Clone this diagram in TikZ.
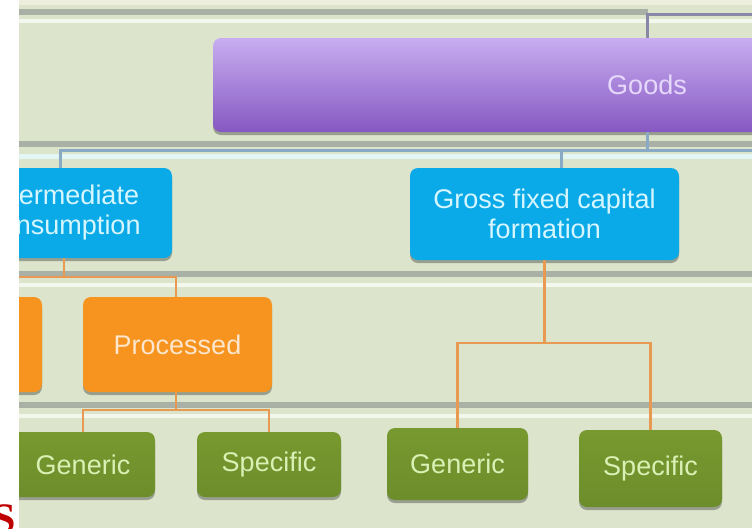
\documentclass[tikz,border=0pt]{standalone}
\usepackage{fontspec}
\setmainfont{Liberation Sans}
\newfontfamily\serifbold{Liberation Serif}
\usetikzlibrary{shadows}
\definecolor{bg}{HTML}{DCE4CC}
\definecolor{sepgray}{HTML}{A9B0A6}
\definecolor{sepwhite}{HTML}{F4F7EE}
\definecolor{topbeige}{HTML}{EEEEDC}
\definecolor{purtop}{HTML}{C8AEF0}
\definecolor{purbot}{HTML}{8658C2}
\definecolor{purtext}{HTML}{E6D8FA}
\definecolor{purline}{HTML}{8A86A8}
\definecolor{bluebox}{HTML}{0AA9E8}
\definecolor{bluetext}{HTML}{D6F6FF}
\definecolor{busblue}{HTML}{88AAC4}
\definecolor{lightcyan}{HTML}{E2F6F4}
\definecolor{orangebox}{HTML}{F7931F}
\definecolor{orangetext}{HTML}{FCE6CC}
\definecolor{orangeline}{HTML}{E89A52}
\definecolor{greenbox}{HTML}{6C8D2B}
\definecolor{greentop}{HTML}{78992F}
\definecolor{greentext}{HTML}{DAF0B4}
\definecolor{redS}{HTML}{C00000}
\tikzset{
  box/.style={rounded corners=8pt, inner sep=0pt, align=center,
    font=\fontsize{27}{30}\selectfont,
    drop shadow={shadow xshift=0pt, shadow yshift=-3pt, opacity=0.3, fill=black}},
  goodsbox/.style={box, top color=purtop, bottom color=purbot, text=purtext},
  bluenode/.style={box, fill=bluebox, text=bluetext},
  orangenode/.style={box, fill=orangebox, text=orangetext},
  greennode/.style={box, top color=greentop, bottom color=greenbox, text=greentext},
  sep/.style={draw=sepgray, line width=6pt},
  sepw/.style={draw=sepwhite, line width=4pt},
  topline/.style={draw=purline, line width=3pt},
  busline/.style={draw=busblue, line width=3pt},
  orline/.style={draw=orangeline, line width=2.5pt}
}
\begin{document}
\begin{tikzpicture}[x=1pt,y=-1pt]
\useasboundingbox (0,0) rectangle (752,528);
\begin{scope}
\clip (19,0) rectangle (752,528);
\fill[bg] (19,0) rectangle (752,528);
\fill[topbeige] (19,0) rectangle (752,5);
% separators
\draw[sep] (19,12) -- (648,12);
\draw[sepw] (19,21) -- (752,21);
\draw[sep] (19,144) -- (752,144);
\draw[draw=lightcyan, line width=5pt] (19,156) -- (752,156);
\draw[sep] (19,274) -- (752,274);
\draw[sepw] (19,285) -- (752,285);
\draw[sep] (19,405) -- (752,405);
\draw[sepw] (19,416) -- (752,416);

% nodes
\node[goodsbox, minimum width=868pt, minimum height=94pt] (goods) at (647,85) {Goods};
\node[bluenode, minimum width=216pt, minimum height=90pt] (inter) at (64,213) {Intermediate\\consumption};
\node[bluenode, minimum width=269pt, minimum height=92pt] (gross) at (544.5,214) {Gross fixed capital\\formation};
\node[orangenode, minimum width=189pt, minimum height=95pt] (raw) at (-52.5,344.5) {};
\node[orangenode, minimum width=189pt, minimum height=95pt] (proc) at (177.5,344.5) {Processed};
\node[greennode, minimum width=144pt, minimum height=65pt] (gen1) at (83,464.5) {Generic};
\node[greennode, minimum width=144pt, minimum height=65pt] (spe1) at (269,464.5) {Specific};
\node[greennode, minimum width=141pt, minimum height=72pt] (gen2) at (457.5,464) {Generic};
\node[greennode, minimum width=143pt, minimum height=77pt] (spe2) at (650.5,468.5) {Specific};

% top connector
\coordinate (topright) at (770,14);
\draw[topline] (goods.north) |- (topright);

% bus below Goods
\path (goods.south) ++(0,18) coordinate (gb);
\draw[busline] (goods.south) -- (gb);
\draw[busline] ([xshift=-4pt]inter.north) |- (gb) -- ++(130,0);
\draw[busline] ([xshift=16.5pt]gross.north) -- ([xshift=16.5pt]gross.north |- gb);

% orange connectors
\path (inter.south) ++(0,19) coordinate (ib);
\draw[orline] (inter.south) -- (ib);
\draw[orline] (ib) -| (raw.north);
\draw[orline] (ib) -| ([xshift=-1.5pt]proc.north);

\path (proc.south) ++(0,18) coordinate (pb);
\draw[orline] ([xshift=-1.5pt]proc.south) -- ([xshift=-1.5pt]pb);
\draw[orline] (pb) -| (gen1.north);
\draw[orline] (pb) -| (spe1.north);

\path (gross.south) ++(0,83) coordinate (gfb);
\draw[orline] (gross.south) -- (gfb);
\draw[orline] (gfb) -| (gen2.north);
\draw[orline] (gfb) -| (spe2.north);
\end{scope}

\fill[white] (0,0) rectangle (19,528);
\begin{scope}
\clip (0,0) rectangle (19,528);
\node[anchor=base east, inner sep=0pt, text=redS,
  font=\serifbold\bfseries\fontsize{42}{42}\selectfont] (redletter) at (16.5,532) {S};
\end{scope}
\end{tikzpicture}
\end{document}
